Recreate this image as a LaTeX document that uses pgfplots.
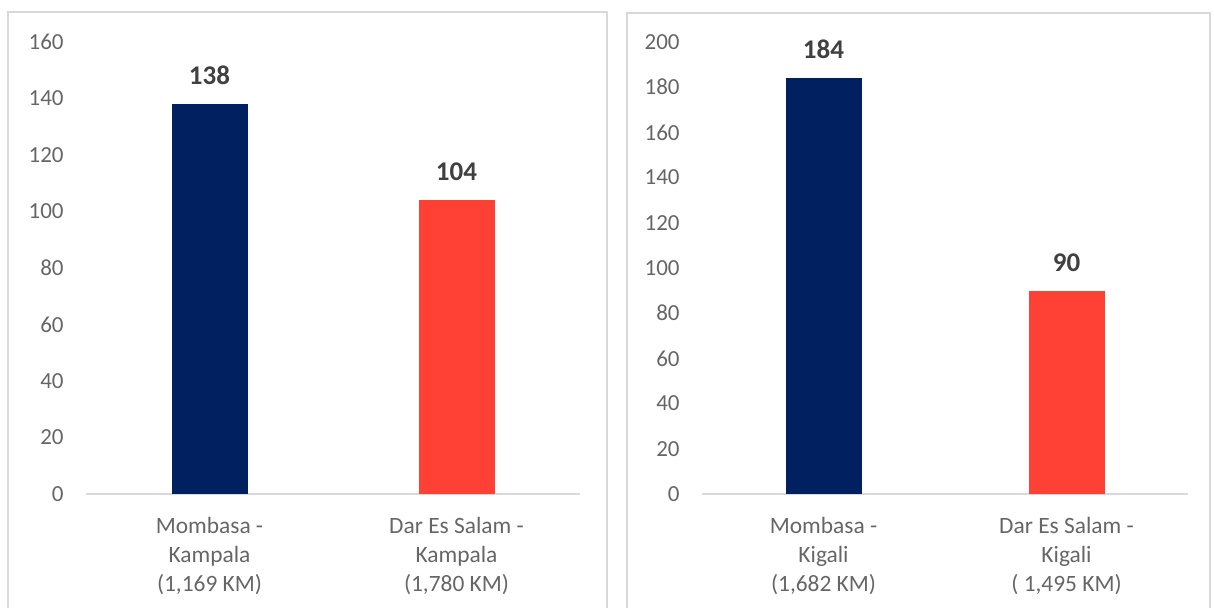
\documentclass[border=0pt]{standalone}
\usepackage{pgfplots}
\pgfplotsset{compat=1.18}
\usepackage{fontspec}
\setmainfont{Carlito}
\definecolor{navy}{HTML}{002060}
\definecolor{redbar}{HTML}{FF4034}
\definecolor{tickgray}{HTML}{666666}
\definecolor{lblgray}{HTML}{404040}
\definecolor{linegray}{HTML}{D9D9D9}
\pgfplotsset{panel/.style={
 scale only axis, anchor=south west,
 xmin=-0.5, xmax=1.5, ymin=0,
 xtick={0,1},
 axis x line*=bottom, axis y line*=left,
 y axis line style={draw=none},
 x axis line style={draw=linegray, line width=1pt},
 major tick length=0pt,
 tick style={draw=none},
 /pgf/number format/assume math mode=true,
 yticklabel style={anchor=east, inner sep=0pt, xshift=-11pt, font=\fontsize{11.5}{13}\selectfont, text=tickgray},
 xticklabel style={anchor=north, inner sep=0pt, yshift=-11.5pt, align=center, font=\fontsize{11.7}{14.5}\selectfont, text=tickgray},
 ybar, bar width=38pt, bar shift=0pt,
 nodes near coords,
 nodes near coords style={font=\fontsize{13.5}{16}\selectfont\bfseries, text=lblgray, inner sep=0pt, anchor=south, yshift=9.5pt},
 clip=false,
}}
\begin{document}
\begin{tikzpicture}
\useasboundingbox (0,0) rectangle (607pt,304pt);
\draw[linegray, line width=1pt] (4pt,-2pt) -- (4pt,298pt) -- (303.5pt,298pt) -- (303.5pt,-2pt);
\draw[linegray, line width=1pt] (313.5pt,-2pt) -- (313.5pt,297.5pt) -- (605pt,297.5pt) -- (605pt,-2pt);
\begin{axis}[panel, at={(43pt,57pt)}, width=247pt, height=226pt, ymax=160, ytick={0,20,...,160},
 xticklabels={{Mombasa -\\Kampala\\(1,169 KM)},{Dar Es Salam -\\Kampala\\(1,780 KM)}}]
\addplot[fill=navy, draw=none] coordinates {(0,138)};
\addplot[fill=redbar, draw=none] coordinates {(1,104)};
\end{axis}
\begin{axis}[panel, at={(351pt,57pt)}, width=243pt, height=226pt, ymax=200, ytick={0,20,...,200},
 xticklabels={{Mombasa -\\Kigali\\(1,682 KM)},{Dar Es Salam -\\Kigali\\( 1,495 KM)}}]
\addplot[fill=navy, draw=none] coordinates {(0,184)};
\addplot[fill=redbar, draw=none] coordinates {(1,90)};
\end{axis}
\end{tikzpicture}
\end{document}
